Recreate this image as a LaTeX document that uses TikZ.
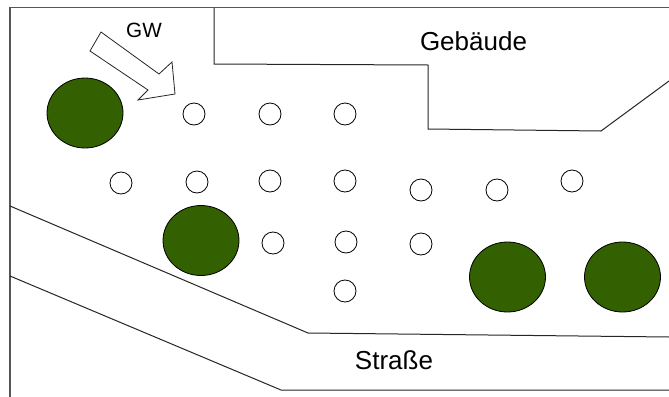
\documentclass[tikz,border=0pt]{standalone}
\usepackage{fontspec}
\setmainfont{Liberation Sans}
\definecolor{treegreen}{HTML}{336000}
\definecolor{framegray}{HTML}{555555}
\tikzset{
  x=0.75pt,y=-0.75pt,
  plan/.style={draw=black!85,line width=0.75pt,line join=miter},
  framing/.style={draw=framegray,line width=0.9pt},
  spot/.style={circle,draw=black,line width=0.6pt,fill=white,minimum size=16.5pt,inner sep=0pt},
  tree/.style={ellipse,draw=black,line width=0.6pt,fill=treegreen,minimum width=57pt,minimum height=52.5pt,inner sep=0pt},
  biglabel/.style={font=\fontsize{19.5pt}{22pt}\selectfont,inner sep=0pt},
  smalllabel/.style={font=\fontsize{15.5pt}{18pt}\selectfont,inner sep=0pt}
}
\usetikzlibrary{shapes.geometric}
\begin{document}
\begin{tikzpicture}
\useasboundingbox (0,0) rectangle (669,397);
\fill[white] (0,0) rectangle (669,397);
% frame
\draw[framing] (10,397) -- (10,7.5) -- (669,7.5);
% building
\draw[plan] (214,8) -- (214,64) -- (428,65) -- (428,129) -- (601,131) -- (669,81);
% road
\draw[plan] (10,206) -- (308,333) -- (669,337);
\draw[plan] (10,276) -- (281,390) -- (669,390);
% wind arrow
\draw[plan,fill=white,line width=0.6pt] (101,32) -- (90,51) -- (148,90) -- (138,100) -- (175,94) -- (172,62) -- (159,74) -- cycle;
% trees
\node[tree] (t1) at (85,113) {};
\node[tree] (t2) at (201,240.5) {};
\node[tree] (t3) at (507.5,277) {};
\node[tree] (t4) at (622.5,277) {};
% spots
\foreach \n/\px/\py in {a/194/114,b/270/114,c/345/114,d/121/183,e/197/182,f/270/181,g/345/181,h/421/190,i/497/190,j/572/181,k/273/243,l/346/242,m/421/244,n/345/291}
  \node[spot] (\n) at (\px,\py) {};
% labels
\node[smalllabel] (gw) at (144,30) {GW};
\node[biglabel] (geb) at (473.5,41) {Gebäude};
\node[biglabel] (str) at (394,360) {Straße};
\end{tikzpicture}
\end{document}
